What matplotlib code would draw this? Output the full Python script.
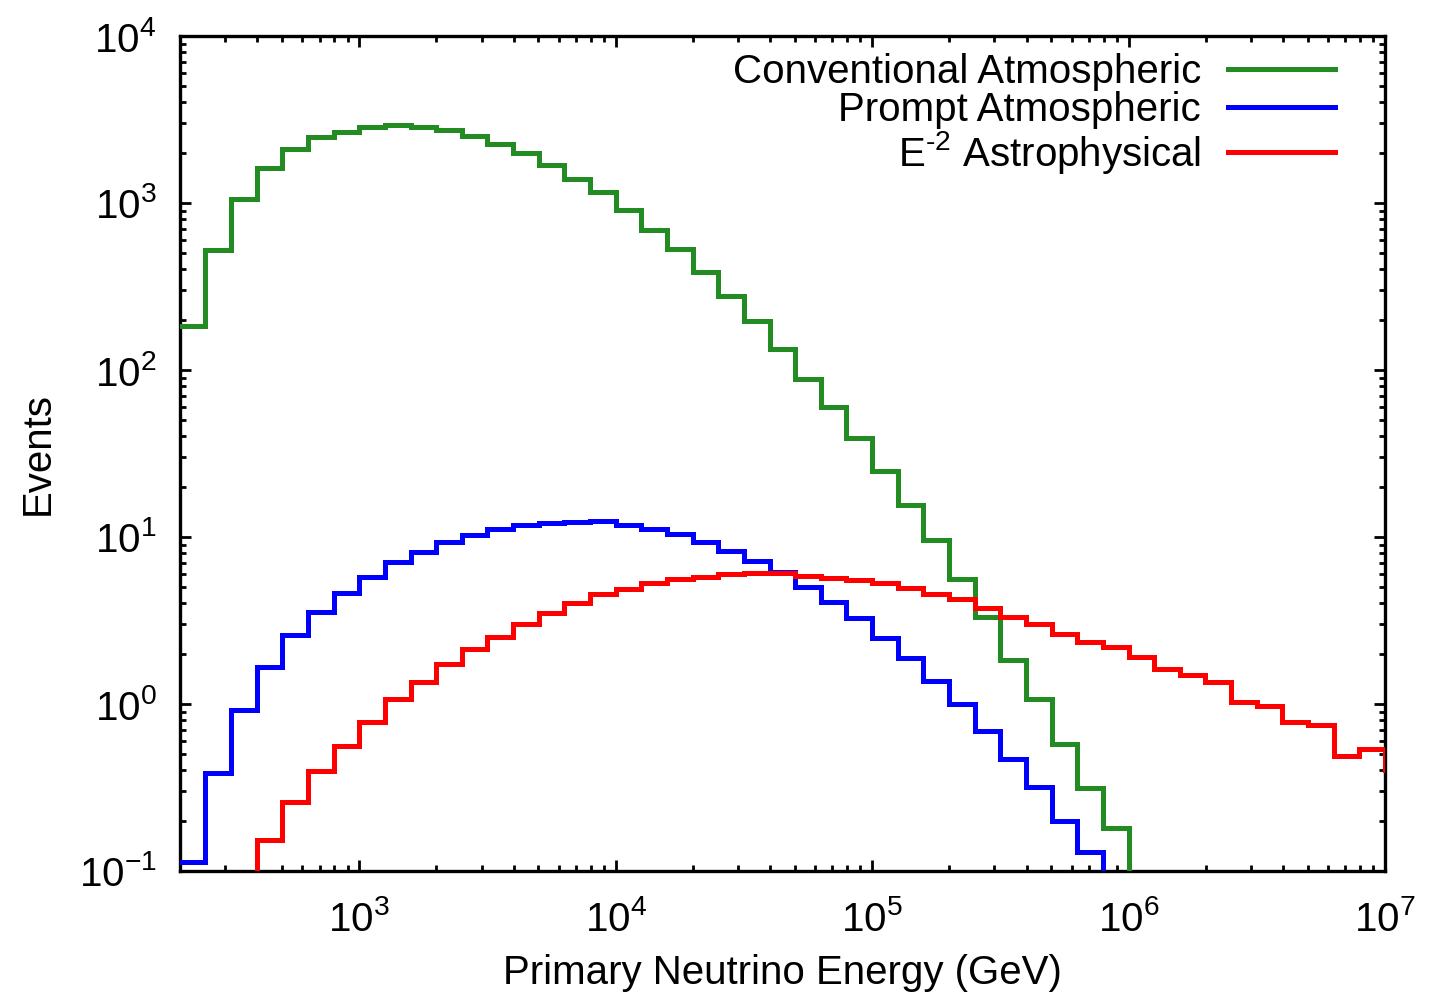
import numpy as np
import matplotlib
matplotlib.use("Agg")
import matplotlib.pyplot as plt
from matplotlib.ticker import LogLocator, NullFormatter

plt.rcParams['font.family'] = ['Liberation Sans', 'DejaVu Sans']
plt.rcParams['mathtext.fontset'] = 'custom'
plt.rcParams['mathtext.rm'] = 'Liberation Sans'
plt.rcParams['mathtext.it'] = 'Liberation Sans:italic'
plt.rcParams['mathtext.bf'] = 'Liberation Sans:bold'
plt.rcParams['axes.unicode_minus'] = False

# bins of 0.1 in log10(E/GeV), starting at 10^2.3
log_edges = np.round(np.arange(2.3, 7.15, 0.1), 1)
energy_edges = 10 ** log_edges

# events per bin (0 = below the plotted range)
conventional = [183, 523, 1057, 1620, 2105, 2483, 2661, 2851, 2930, 2851,
                2735, 2512, 2254, 1991, 1689, 1393, 1165, 908, 689, 531,
                387, 278, 196, 133, 88, 60, 39, 25, 15.5, 9.6,
                5.6, 3.3, 1.83, 1.07, 0.58, 0.314, 0.181, 0, 0, 0,
                0, 0, 0, 0, 0, 0, 0, 0]
prompt = [0.113, 0.386, 0.92, 1.67, 2.59, 3.55, 4.62, 5.76, 7.08, 8.13,
          9.33, 10.3, 11.2, 11.8, 12.1, 12.3, 12.5, 11.8, 11.2, 10.4,
          9.33, 8.25, 7.18, 6.17, 5.02, 4.08, 3.27, 2.48, 1.89, 1.37,
          1.0, 0.69, 0.47, 0.32, 0.20, 0.13, 0, 0, 0, 0,
          0, 0, 0, 0, 0, 0, 0, 0]
astro = [0, 0, 0, 0.153, 0.259, 0.397, 0.561, 0.78, 1.07, 1.35,
         1.74, 2.13, 2.52, 3.01, 3.51, 4.03, 4.56, 4.88, 5.31, 5.61,
         5.76, 6.0, 6.09, 6.09, 5.84, 5.68, 5.53, 5.31, 4.95, 4.56,
         4.25, 3.76, 3.32, 3.01, 2.62, 2.35, 2.19, 1.91, 1.62, 1.49,
         1.35, 1.03, 0.97, 0.78, 0.75, 0.49, 0.54, 0.40]

series = [
    ("Conventional Atmospheric", conventional, "#228B22"),
    ("Prompt Atmospheric", prompt, "#0000FF"),
    (r"E$^{\text{-2}}$ Astrophysical", astro, "#FF0000"),
]

fs = 29

fig = plt.figure(figsize=(14.41, 9.94), dpi=100)
ax = fig.add_axes([180 / 1441, 1 - 871 / 994, 1205 / 1441, 835 / 994])

for label, vals, col in series:
    y = np.append(vals, vals[-1])
    ax.step(energy_edges, y, where='post', color=col, lw=3.6,
            label=label, solid_joinstyle='miter', zorder=3)

ax.set_xscale('log', nonpositive='clip')
ax.set_yscale('log', nonpositive='clip')
ax.set_xlim(200, 1e7)
ax.set_ylim(0.1, 1e4)

for axis in (ax.xaxis, ax.yaxis):
    axis.set_major_locator(LogLocator(base=10, numticks=20))
    axis.set_minor_locator(LogLocator(base=10, subs=np.arange(2, 10), numticks=20))
    axis.set_minor_formatter(NullFormatter())

ax.tick_params(which='both', direction='in', top=True, right=True,
               labelsize=fs, width=2.0, color='black')
ax.tick_params(which='major', length=8)
ax.tick_params(which='minor', length=4)
ax.tick_params(axis='x', which='major', pad=21)
ax.tick_params(axis='y', which='major', pad=17)
for s in ax.spines.values():
    s.set_linewidth(2.4)

ax.set_xlabel("Primary Neutrino Energy (GeV)", fontsize=fs)
ax.set_ylabel("Events", fontsize=fs)
ax.xaxis.set_label_coords(0.5, -0.1)
ax.yaxis.set_label_coords(-0.102, 0.5)

leg = ax.legend(loc='upper right', bbox_to_anchor=(0.9585, 0.98),
                frameon=False, markerfirst=False,
                fontsize=fs, handlelength=2.66, handletextpad=0.67,
                labelspacing=0.0, borderaxespad=0.0, borderpad=0.0)

fig.savefig("out.png", dpi=100)
